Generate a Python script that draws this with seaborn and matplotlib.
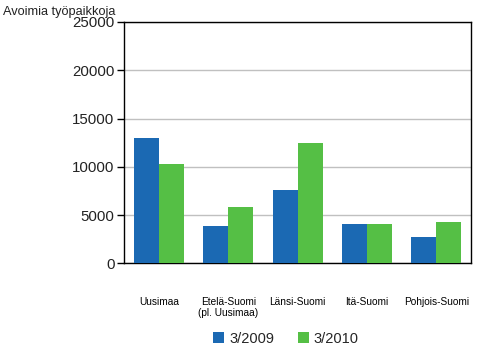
import matplotlib
matplotlib.use("Agg")
import matplotlib.pyplot as plt
import seaborn as sns
import pandas as pd

regions = ["Uusimaa", "Etelä-Suomi\n(pl. Uusimaa)", "Länsi-Suomi", "Itä-Suomi", "Pohjois-Suomi"]
series_names = ["3/2009", "3/2010"]
values_2009 = [13000, 3870, 7620, 4080, 2730]
values_2010 = [10300, 5850, 12500, 4080, 4290]
colors = ["#1B69B3", "#55BF45"]

df = pd.DataFrame({
    "region": regions * 2,
    "series": [series_names[0]] * len(regions) + [series_names[1]] * len(regions),
    "value": values_2009 + values_2010,
})

sns.set_theme(style="white")
plt.rcParams["font.family"] = ["Liberation Sans", "DejaVu Sans"]

fig = plt.figure(figsize=(5, 3.5), dpi=100)
ax = fig.add_axes([0.2486, 0.2477, 0.6934, 0.6895])

sns.barplot(data=df, x="region", y="value", hue="series", palette=colors,
            width=0.72, gap=0, saturation=1, ax=ax, legend=False, zorder=3,
            linewidth=0, edgecolor="none")

ax.set_ylim(0, 25000)
ax.set_xlim(-0.5, len(regions) - 0.5)
ax.set_yticks(range(0, 25001, 5000))
ax.yaxis.grid(True, color="#C0C0C0", linewidth=1, zorder=0)
ax.set_axisbelow(True)
ax.set_xlabel("")
ax.set_ylabel("")
for s in ax.spines.values():
    s.set_color("black")
    s.set_linewidth(1)
ax.tick_params(axis="y", labelsize=10.8, length=5, width=1, color="black", pad=2, colors="#222222", left=True)
ax.tick_params(axis="x", labelsize=7.3, length=0, pad=24, colors="black")

fig.text(0.006, 0.967, "Avoimia työpaikkoja", fontsize=9.2, ha="left", va="center", color="#222222")

from matplotlib.patches import Patch
handles = [Patch(facecolor=c, edgecolor="none") for c in colors]
fig.legend(handles, series_names, loc="center", bbox_to_anchor=(0.572, 0.032), ncol=2,
           frameon=False, fontsize=10.5, handlelength=0.75, handleheight=0.75,
           handletextpad=0.35, columnspacing=1.6)

fig.savefig("out.png", dpi=100)
